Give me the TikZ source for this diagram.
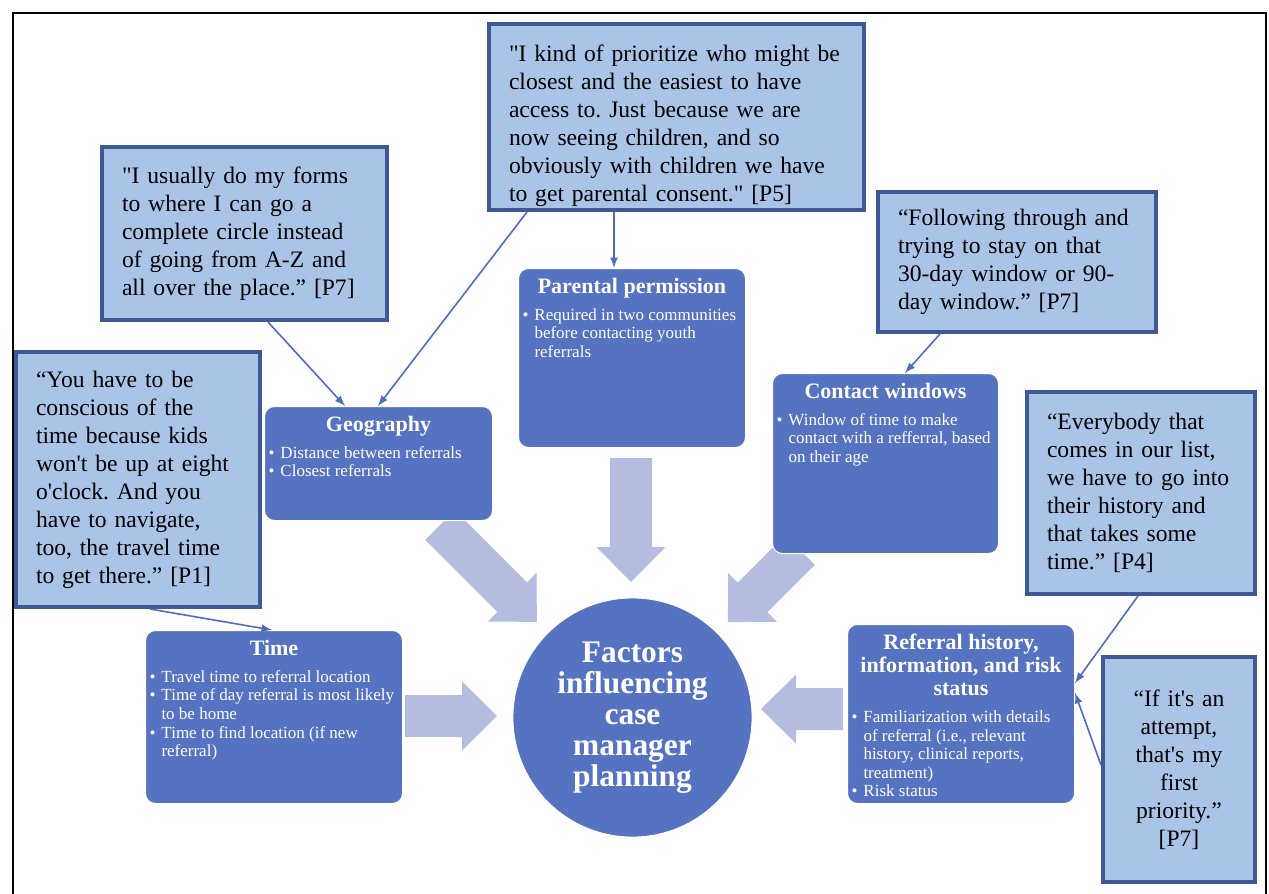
\documentclass[tikz,border=0pt]{standalone}
\usepackage{fontspec}
\setmainfont{Liberation Serif}[Ligatures=TeXOff]
\usepackage{xcolor}
\usetikzlibrary{calc, arrows, shapes, positioning}
\definecolor{themeblue}{RGB}{86,115,194}
\definecolor{quotefill}{RGB}{169,196,230}
\definecolor{quoteedge}{RGB}{63,88,150}
\definecolor{arrowfill}{RGB}{180,189,223}
\definecolor{linkblue}{RGB}{78,109,194}
\tikzset{
    quotenode/.style = {draw=quoteedge, fill=quotefill, line width=2pt, rectangle, anchor=north west,
      inner xsep=10pt, inner ysep=0pt, align=left, font=\frenchspacing\fontsize{11.8}{14}\selectfont},
    themenode/.style = {draw=white, line width=0.5pt, fill=themeblue, rectangle, rounded corners=5pt,
      anchor=north west, inner sep=2pt, text=white},
    circlenode/.style = {circle, draw=white, fill=themeblue, inner sep=0em, minimum size=119.5pt,
      text=white, align=center, font=\bfseries\fontsize{15.7}{15.5}\selectfont},
    connect/.style = {linkblue, line width=0.8pt, -latex},
    blockfill/.style = {fill=arrowfill, draw=none}
}
\newcommand{\bul}[1]{\par\hangindent=6pt\hangafter=1\noindent\makebox[6pt][l]{\textbullet}#1}
\newcommand{\themetext}[4]{\parbox[c][#2][t]{#1}{\frenchspacing\vspace*{3pt}\centering\bfseries
  \fontsize{11}{11.5}\selectfont #3\par\vspace{4pt}\raggedright\mdseries\fontsize{8.5}{9.3}\selectfont #4\par}}
\newcommand{\blockarrow}[4]{\fill[blockfill, shift={(#1,#2)}, rotate=#3]
  (0,21) -- (#4,21) -- (#4,34.5) -- ({#4+35},0) -- (#4,-34.5) -- (#4,-21) -- (0,-21) -- cycle;}

\begin{document}
\begin{tikzpicture}[x=0.5pt, y=-0.5pt]
    \useasboundingbox (0,0) rectangle (1269,894);
    \draw[line width=1pt] (13,894) -- (13,13) -- (1266,13) -- (1266,894);

    % block arrows into the centre
    \blockarrow{631}{458}{-90}{89}
    \blockarrow{440}{525}{-45}{102}
    \blockarrow{800}{550}{-135}{67}
    \blockarrow{405}{716}{0}{57}
    \blockarrow{843}{709}{180}{47}

    \node [name=centre, circlenode] at (632.5,717.5) {Factors\\influencing\\case\\manager\\planning};

    \node [name=geo, themenode] at (264,406) {\themetext{110pt}{53pt}{Geography}{%
        \bul{Distance between referrals}\bul{Closest referrals}}};
    \node [name=par, themenode] at (518,268) {\themetext{109.5pt}{85.5pt}{Parental permission}{%
        \bul{Required in two communities\newline before contacting youth\newline referrals}}};
    \node [name=contact, themenode] at (772,373) {\themetext{109pt}{86pt}{Contact windows}{%
        \bul{Window of time to make\newline contact with a refferral, based\newline on their age}}};
    \node [name=time, themenode] at (145,630) {\themetext{124.5pt}{82.5pt}{Time}{%
        \bul{Travel time to referral location}%
        \bul{Time of day referral is most likely\newline to be home}%
        \bul{Time to find location (if new\newline referral)}}};
    \node [name=ref, themenode] at (847,624) {\themetext{109.5pt}{85.5pt}{Referral history,\\ information, and risk\\ status}{%
        \bul{Familiarization with details\newline of referral (i.e., relevant\newline history, clinical reports,\newline treatment)}%
        \bul{Risk status}}};

    \node [name=qfive, quotenode, text width=167.5pt, minimum height=93pt] at (487,22)
        {\rule{0pt}{17pt}"I kind of prioritize who might be\\ closest and the easiest to have\\ access to. Just because we are\\ now seeing children, and so\\ obviously with children we have\\ to get parental consent." [P5]};
    \node [name=qforms, quotenode, text width=122.5pt, minimum height=86.5pt] at (100,145)
        {"I usually do my forms\\ to where I can go a\\ complete circle instead\\ of going from A-Z and\\ all over the place.” [P7]};
    \node [name=qone, quotenode, text width=102pt, minimum height=127.5pt] at (14,350)
        {“You have to be\\ conscious of the\\ time because kids\\ won't be up at eight\\ o'clock. And you\\ have to navigate,\\ too, the travel time\\ to get there.” [P1]};
    \node [name=qfollow, quotenode, text width=119pt, minimum height=70pt] at (876,190)
        {“Following through and\\ trying to stay on that\\ 30-day window or 90-\\ day window.” [P7]};
    \node [name=qfour, quotenode, text width=94pt, minimum height=101pt] at (1025,390)
        {“Everybody that\\ comes in our list,\\ we have to go into\\ their history and\\ that takes some\\ time.” [P4]};
    \node [name=qif, quotenode, align=center, text width=56pt, minimum height=112.5pt] at (1101,655)
        {“If it's an\\ attempt,\\ that's my\\ first\\ priority.”\\ {[P7]}};

    \draw [connect] ([xshift=63.5pt]qfive.south west) -- ([xshift=48pt]par.north west);
    \draw [connect] ([xshift=20pt]qfive.south west) -- ([xshift=57pt]geo.north west);
    \draw [connect] ([xshift=84pt]qforms.south west) -- ([xshift=40.5pt]geo.north west);
    \draw [connect] ([xshift=32pt]qfollow.south west) -- ([xshift=66.5pt]contact.north west);
    \draw [connect] ([xshift=68pt]qone.south west) -- ([xshift=63.5pt]time.north west);
    \draw [connect] ([xshift=56.5pt]qfour.south west) -- ([yshift=-29.5pt]ref.north east);
    \draw [connect] ([yshift=-55pt]qif.north west) -- ([yshift=-34.5pt]ref.north east);
\end{tikzpicture}
\end{document}
